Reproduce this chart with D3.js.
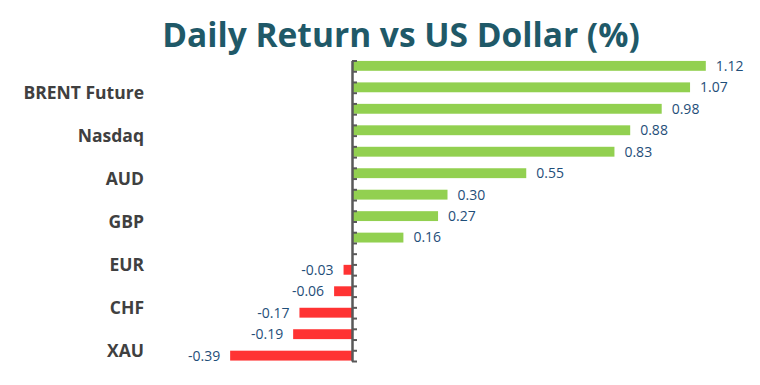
<!DOCTYPE html>
<html>
<head>
<meta charset="utf-8">
<script src="https://cdn.jsdelivr.net/npm/d3@7"></script>
<style>
  html, body { margin: 0; padding: 0; background: #fff; }
  svg { display: block; font-family: "Open Sans", sans-serif; }
</style>
</head>
<body>
<svg id="chart" width="760" height="385"></svg>
<script>
// category labels (only every other one is printed on the chart)
const categories = ["", "BRENT Future", "", "Nasdaq", "", "AUD", "", "GBP", "", "EUR", "", "CHF", "", "XAU"];
const returns = [1.12, 1.07, 0.98, 0.88, 0.83, 0.55, 0.30, 0.27, 0.16, -0.03, -0.06, -0.17, -0.19, -0.39];
const seriesNames = ["up", "down"];
const seriesColors = { up: "#92D050", down: "#FF3333" };

const width = 760;
const height = 385;
const plot = { top: 60.5, bottom: 361, zeroX: 353, unit: 315 };

const svg = d3.select("#chart");

const x = d3
    .scaleLinear()
    .domain([-0.4, 1.2])
    .range([plot.zeroX - 0.4 * plot.unit, plot.zeroX + 1.2 * plot.unit]);

const y = d3
    .scaleBand()
    .domain(d3.range(categories.length))
    .range([plot.top, plot.bottom])
    .padding(0);

const ySub = d3
    .scaleBand()
    .domain(seriesNames)
    .range([0, y.bandwidth()])
    .paddingInner(0.08)
    .paddingOuter(0.04);

const barData = returns.map((v, i) => ({ i, value: v, series: v >= 0 ? "up" : "down" }));

// title
svg.append("text")
    .attr("x", 401)
    .attr("y", 47)
    .attr("text-anchor", "middle")
    .attr("font-size", 33.5)
    .attr("font-weight", 700)
    .attr("fill", "#1F5968")
    .text("Daily Return vs US Dollar (%)");

// bars
svg.append("g")
    .selectAll("rect")
    .data(barData)
    .join("rect")
    .attr("x", (d) => x(Math.min(0, d.value)))
    .attr("y", (d) => y(d.i) + ySub(d.series))
    .attr("width", (d) => Math.abs(x(d.value) - x(0)))
    .attr("height", ySub.bandwidth())
    .attr("fill", (d) => seriesColors[d.series]);

// value labels
svg.append("g")
    .selectAll("text")
    .data(barData)
    .join("text")
    .attr("x", (d) => (d.value >= 0 ? x(d.value) + 10 : x(d.value) - 10))
    .attr("y", (d) => y(d.i) + ySub(d.series) + ySub.bandwidth() / 2)
    .attr("dy", "0.35em")
    .attr("text-anchor", (d) => (d.value >= 0 ? "start" : "end"))
    .attr("font-size", 14)
    .attr("fill", "#1F4E79")
    .text((d) => d.value.toFixed(2));

// vertical axis at zero with half-band ticks
const tickScale = d3
    .scaleLinear()
    .domain([0, categories.length * 2])
    .range([plot.top, plot.bottom]);

const axis = svg.append("g")
    .attr("transform", `translate(${x(0) - 1},0)`)
    .call(
        d3.axisRight(tickScale)
            .tickValues(d3.range(categories.length * 2 + 1))
            .tickSize(5)
            .tickSizeOuter(0)
            .tickFormat("")
    );
axis.select(".domain").attr("stroke", "#595959").attr("stroke-width", 2.5);
axis.selectAll(".tick line").attr("stroke", "#595959").attr("stroke-width", 2);

// category labels
svg.append("g")
    .selectAll("text")
    .data(categories.map((c, i) => ({ c, i })).filter((d) => d.c !== ""))
    .join("text")
    .attr("x", 144)
    .attr("y", (d) => y(d.i) + y.bandwidth() / 2)
    .attr("dy", "0.36em")
    .attr("text-anchor", "end")
    .attr("font-size", 17.5)
    .attr("font-weight", 700)
    .attr("fill", "#404040")
    .text((d) => d.c);
</script>
</body>
</html>
